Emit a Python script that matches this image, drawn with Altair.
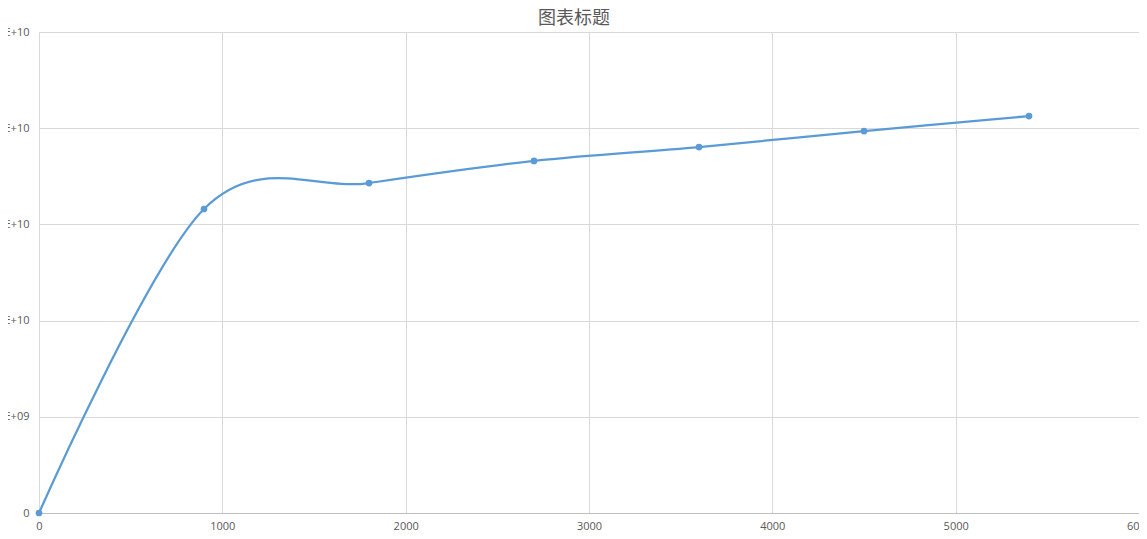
import altair as alt
import pandas as pd

# Data
x_values = [0, 900, 1800, 2700, 3600, 4500, 5400]
y_values = [0, 1.580e10, 1.715e10, 1.830e10, 1.902e10, 1.985e10, 2.063e10]

x_ticks = [0, 1000, 2000, 3000, 4000, 5000, 6000]
y_ticks = [0, 5e9, 1e10, 1.5e10, 2e10, 2.5e10]
y_tick_labels = ["0", "5E+09", "1E+10", "1.5E+10", "2E+10", "2.5E+10"]

title_text = "图表标题"

df = pd.DataFrame({"x": x_values, "y": y_values})

label_array = "[" + ",".join("'" + s + "'" for s in y_tick_labels) + "]"
y_label_expr = label_array + "[round(datum.value / 5e9)]"

LINE_COLOR = "#5b9bd5"
TEXT_COLOR = "#595959"
GRID_COLOR = "#d9d9d9"
FONT = "Open Sans"

x_enc = alt.X(
    "x:Q",
    scale=alt.Scale(domain=[0, 6000], nice=False, zero=False),
    axis=alt.Axis(
        values=x_ticks,
        format="d",
        title=None,
        grid=True,
        gridColor=GRID_COLOR,
        gridWidth=1,
        ticks=False,
        domain=True,
        domainColor="#bfbfbf",
        domainWidth=1,
        labelColor=TEXT_COLOR,
        labelFont=FONT,
        labelFontSize=11,
        labelPadding=7,
        labelBaseline="top",
        labelFlush=False,
        labelOverlap=False,
    ),
)

y_enc = alt.Y(
    "y:Q",
    scale=alt.Scale(domain=[0, 2.5e10], nice=False),
    axis=alt.Axis(
        values=y_ticks,
        labelExpr=y_label_expr,
        title=None,
        grid=True,
        gridColor=GRID_COLOR,
        gridWidth=1,
        ticks=False,
        domain=False,
        labelColor=TEXT_COLOR,
        labelFont=FONT,
        labelFontSize=11,
        labelPadding=10,
        labelFlush=False,
        labelOverlap=False,
    ),
)

base = alt.Chart(df).encode(x=x_enc, y=y_enc)

line = base.mark_line(
    interpolate="cardinal",
    color=LINE_COLOR,
    strokeWidth=2.25,
)

points = base.mark_point(
    filled=True,
    opacity=1,
    size=45,
    color=LINE_COLOR,
)

chart = (
    alt.layer(line, points)
    .properties(
        width=1100,
        height=481,
        title=alt.TitleParams(
            text=title_text,
            font="Noto Sans CJK SC",
            fontSize=18,
            fontWeight="normal",
            color=TEXT_COLOR,
            anchor="middle",
            baseline="alphabetic",
            offset=0,
            dx=-15,
            dy=16,
        ),
        autosize=alt.AutoSizeParams(type="none"),
        padding={"left": 31, "top": 24, "right": 0, "bottom": 18},
    )
    .configure_view(stroke=None)
)

chart.save("out.html", embed_options={"renderer": "svg", "actions": False})
